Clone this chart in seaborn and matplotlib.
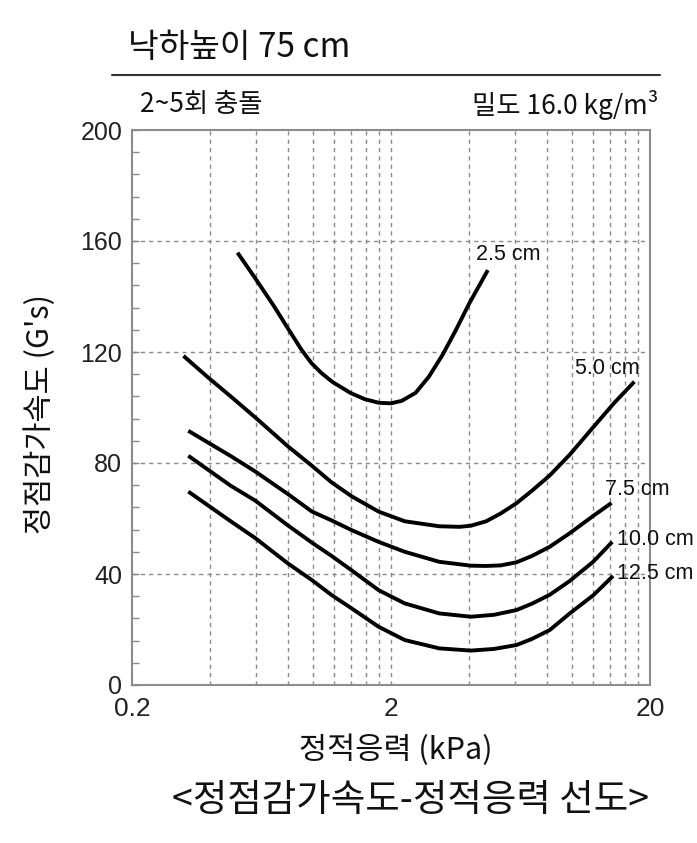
import numpy as np
import pandas as pd
import matplotlib
matplotlib.use("Agg")
import matplotlib.pyplot as plt
from matplotlib.lines import Line2D
import seaborn as sns

# ---- data ----
x_25 = [0.511, 0.593, 0.709, 0.80, 0.901, 0.986, 1.078, 1.189, 1.398, 1.584, 1.796, 2.0, 2.2, 2.49, 2.80, 3.16, 3.56, 4.01, 4.73]
y_25 = [155.8, 147.1, 136.3, 128.5, 120.9, 116.0, 112.4, 109.2, 105.2, 103.0, 101.7, 101.5, 102.4, 105.3, 111.1, 118.9, 127.9, 137.5, 149.5]

x_50 = [0.316, 0.396, 0.481, 0.597, 0.8, 0.99, 1.18, 1.41, 1.79, 2.26, 3.07, 3.68, 4.07, 4.66, 5.3, 6.1, 7.0, 8.2, 9.8, 12.1, 14.5, 17.4]
y_50 = [118.6, 110.6, 104, 96.5, 86, 79, 73, 68, 62.5, 59, 57.2, 57.0, 57.4, 59.0, 61.8, 65.5, 70.0, 75.5, 83, 93, 101.5, 109.3]

x_75 = [0.33, 0.481, 0.597, 0.8, 0.99, 1.18, 1.41, 1.79, 2.26, 3.07, 4.07, 4.66, 5.3, 6.1, 7.0, 8.2, 9.8, 12.1, 14.2]
y_75 = [91.6, 82.5, 77, 68.8, 62.5, 59.3, 55.8, 51.6, 48, 44.4, 43, 42.9, 43.1, 44.2, 46.5, 49.8, 54.7, 61, 65.6]

x_100 = [0.33, 0.481, 0.597, 0.8, 0.99, 1.18, 1.41, 1.79, 2.26, 3.07, 4.07, 5.0, 6.1, 7.0, 8.2, 9.8, 12.1, 14.3]
y_100 = [82.6, 71.8, 66.5, 57.5, 51.3, 46.5, 41.3, 34.2, 29.4, 25.8, 24.6, 25.3, 27, 29.3, 32.5, 37.5, 44.5, 51.6]

x_125 = [0.33, 0.481, 0.597, 0.8, 0.99, 1.18, 1.41, 1.79, 2.26, 3.07, 4.07, 5.0, 6.1, 7.0, 8.2, 9.8, 12.1, 14.4]
y_125 = [69.7, 59, 53, 43.8, 37.8, 32.4, 27.6, 21, 16.2, 13.2, 12.4, 13.0, 14.4, 16.6, 19.8, 25.8, 32.4, 39.3]

series_names = ["2.5 cm", "5.0 cm", "7.5 cm", "10.0 cm", "12.5 cm"]
series_x = [x_25, x_50, x_75, x_100, x_125]
series_y = [y_25, y_50, y_75, y_100, y_125]
label_xy = [(4.25, 155), (10.3, 114.2), (13.4, 70.6), (14.9, 52.6), (14.9, 40.2)]
label_text = ["2.5 cm", "5.0 cm", "7.5 cm", "10.0 cm", "12.5 cm"]

x_ticks = [0.2, 2, 20]
x_tick_labels = ["0.2", "2", "20"]
y_ticks = [0, 40, 80, 120, 160, 200]

title = "낙하높이 75 cm"
left_note = "2~5회 충돌"
right_note = "밀도 16.0 kg/m³"
x_label = "정적응력 (kPa)"
y_label = "정점감가속도 (G's)"
caption = "<정점감가속도-정적응력 선도>"

df = pd.concat([pd.DataFrame({"x": xs, "y": ys, "s": n})
                for n, xs, ys in zip(series_names, series_x, series_y)], ignore_index=True)

sns.set_theme(style="white")
plt.rcParams["font.family"] = ["Noto Sans CJK KR", "DejaVu Sans"]

W, H = 697, 843
fig = plt.figure(figsize=(W / 100, H / 100), dpi=100)
L, R, T, B = 132, 650, 130, 685
ax = fig.add_axes([L / W, 1 - B / H, (R - L) / W, (B - T) / H])

sns.lineplot(data=df, x="x", y="y", hue="s", palette=["black"] * 5, linewidth=2.8,
             legend=False, sort=False, ax=ax, estimator=None)
for ln in ax.get_lines():
    ln.set_solid_joinstyle("round")
    ln.set_solid_capstyle("butt")

ax.set_xscale("log")
ax.set_xlim(0.2, 20)
ax.set_ylim(0, 200)

vgrid = [0.4, 0.6, 0.8, 1.0, 1.2, 1.4, 1.6, 1.8, 2, 4, 6, 8, 10, 12, 14, 16, 18]
for v in vgrid:
    ax.axvline(v, color="#8a8a8a", lw=1.0, ls=(0, (3, 3)), zorder=0)
for h in [40, 80, 120, 160]:
    ax.axhline(h, color="#8a8a8a", lw=1.0, ls=(0, (3, 3)), zorder=0)

ax.set_xticks(x_ticks)
ax.set_xticklabels(x_tick_labels)
ax.xaxis.set_minor_locator(matplotlib.ticker.NullLocator())
ax.tick_params(axis="x", which="both", length=0, pad=9, labelsize=19, labelcolor="#222222")
ax.set_yticks(y_ticks)
ax.set_yticks(np.arange(0, 201, 8), minor=True)
ax.tick_params(axis="y", which="both", direction="in", length=5, width=1, color="#888888",
               pad=7, labelsize=18, labelcolor="#222222", left=True)
for lab in ax.get_xticklabels() + ax.get_yticklabels():
    lab.set_family(["Liberation Sans", "DejaVu Sans"])

for sp in ax.spines.values():
    sp.set_color("#8c8c8c")
    sp.set_linewidth(1.5)

ax.set_xlabel("")
ax.set_ylabel("")

for (lx, ly), t in zip(label_xy, label_text):
    ax.text(lx, ly, t, fontsize=15.5, ha="left", va="center", color="#111111",
            family=["Liberation Sans", "DejaVu Sans"], clip_on=False)

fig.text(128 / W, 1 - 48 / H, title, fontsize=24, ha="left", va="center", color="#111111")
fig.add_artist(Line2D([112 / W, 660 / W], [1 - 75 / H, 1 - 75 / H], color="#333333", lw=1.5))
fig.text(140 / W, 1 - 105 / H, left_note, fontsize=19, ha="left", va="center", color="#111111")
fig.text(658 / W, 1 - 105 / H, right_note, fontsize=19, ha="right", va="center", color="#111111")
fig.text(396 / W, 1 - 750 / H, x_label, fontsize=22, ha="center", va="center", color="#111111")
fig.text(40 / W, 1 - 414 / H, y_label, fontsize=22, ha="center", va="center", rotation=90,
         color="#111111")
fig.text(410 / W, 1 - 800 / H, caption, fontsize=27, ha="center", va="center", color="#111111")

fig.savefig("out.png", dpi=100, facecolor="white")
